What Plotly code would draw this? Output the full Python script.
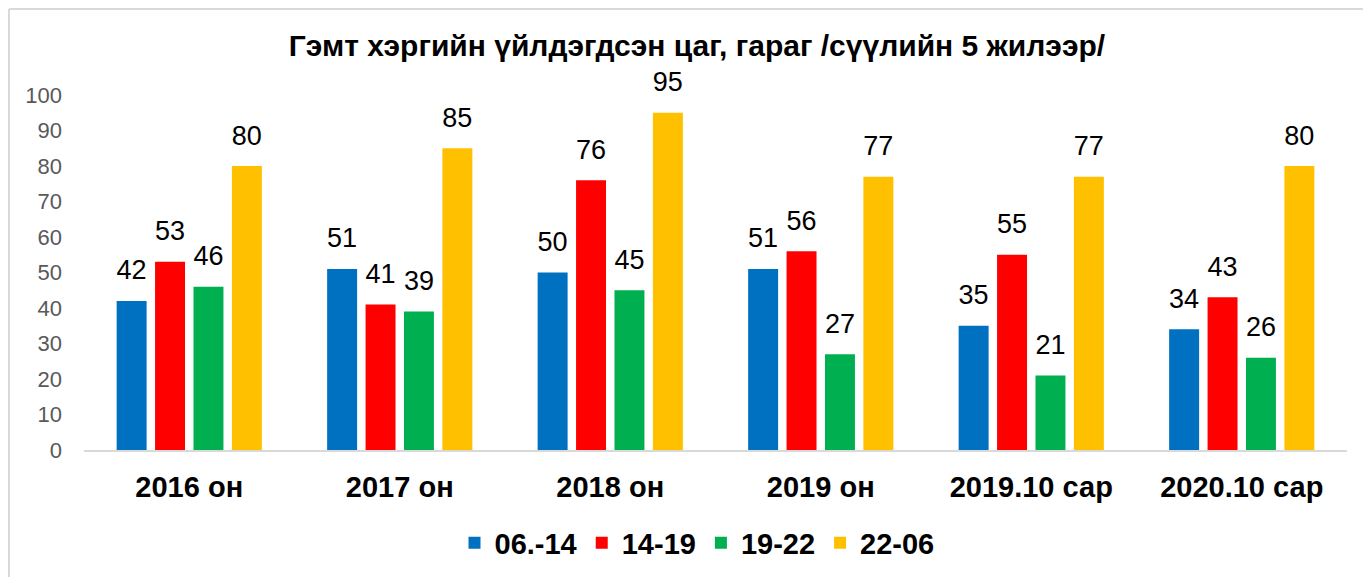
import plotly.graph_objects as go

categories = ["2016 он", "2017 он", "2018 он", "2019 он", "2019.10 сар", "2020.10 сар"]
series_names = ["06.-14", "14-19", "19-22", "22-06"]
values_06_14 = [42, 51, 50, 51, 35, 34]
values_14_19 = [53, 41, 76, 56, 55, 43]
values_19_22 = [46, 39, 45, 27, 21, 26]
values_22_06 = [80, 85, 95, 77, 77, 80]
colors = ["#0070C0", "#FF0000", "#00B050", "#FFC000"]

# page body has an 8px margin, so the figure is shifted by that much
OFF = 8
W, H = 1371, 577
L, R, T, B = 84 - OFF, 24 + OFF, 95 - OFF, 127 + OFF
plot_w = W - L - R
plot_h = H - T - B
FONT = "Liberation Sans, Arial"

fig = go.Figure()
all_vals = [values_06_14, values_14_19, values_19_22, values_22_06]
for i, (name, vals, col) in enumerate(zip(series_names, all_vals, colors)):
    fig.add_trace(go.Bar(
        x=categories,
        y=vals,
        name=name,
        offsetgroup=str(i),
        marker={"color": col, "line": {"width": 0}},
        hoverinfo="x+y+name",
    ))

# data labels: invisible grouped markers so the text sits a bit above each bar
for i, (name, vals) in enumerate(zip(series_names, all_vals)):
    fig.add_trace(go.Scatter(
        x=categories,
        y=vals,
        offsetgroup=str(i),
        mode="markers+text",
        marker={"size": 22, "opacity": 0},
        text=vals,
        textposition="top center",
        textfont={"size": 27, "color": "#000000", "family": FONT},
        cliponaxis=False,
        showlegend=False,
        hoverinfo="skip",
    ))

# light frame round the chart (top and left edges visible)
fx0 = (1 - L) / plot_w
fy1 = 1 + (T - 1) / plot_h
fig.add_shape(type="line", xref="paper", yref="paper", x0=fx0, x1=2, y0=fy1, y1=fy1,
              line={"color": "#d9d9d9", "width": 2})
fig.add_shape(type="line", xref="paper", yref="paper", x0=fx0, x1=fx0, y0=-1, y1=fy1,
              line={"color": "#d9d9d9", "width": 2})

fig.update_layout(
    width=W,
    height=H,
    margin={"l": L, "r": R, "t": T, "b": B},
    paper_bgcolor="white",
    plot_bgcolor="white",
    barmode="group",
    scattermode="group",
    bargap=0.27,
    bargroupgap=0.22,
    scattergap=0.27,
    font={"family": FONT, "color": "#000000"},
    title={
        "text": "<b>Гэмт хэргийн үйлдэгдсэн цаг, гараг /сүүлийн 5 жилээр/</b>",
        "font": {"size": 30, "color": "#000000"},
        "x": (697 - OFF) / W,
        "xanchor": "center",
        "y": 1 - (45 - OFF) / H,
        "yanchor": "middle",
    },
    xaxis={
        "showgrid": False,
        "showline": True,
        "linecolor": "#d9d9d9",
        "linewidth": 2,
        "ticks": "",
        "tickfont": {"size": 29, "color": "#000000"},
        "ticklabelstandoff": 10,
        "tickprefix": "<b>",
        "ticksuffix": "</b>",
    },
    yaxis={
        "range": [0, 100],
        "dtick": 10,
        "showgrid": False,
        "zeroline": False,
        "showline": False,
        "tickfont": {"size": 22, "color": "#595959"},
        "ticklabelstandoff": 21,
    },
    legend={
        "orientation": "h",
        "xref": "container",
        "yref": "container",
        "x": (697 - OFF) / W,
        "xanchor": "center",
        "y": 1 - (543 - OFF) / H,
        "yanchor": "middle",
        "font": {"size": 29, "color": "#000000", "weight": "bold"},
        "itemwidth": 30,
    },
    showlegend=True,
)

fig.write_html("out.html")
